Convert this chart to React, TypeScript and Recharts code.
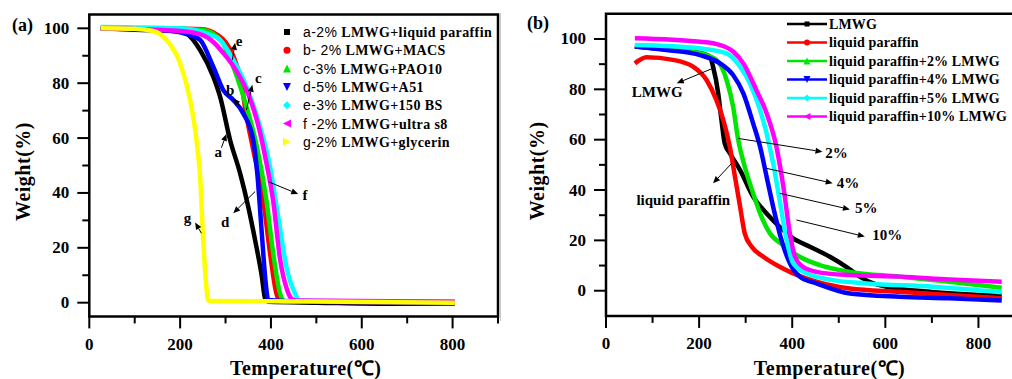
import React from "react";
import {
  LineChart,
  Line,
  XAxis,
  YAxis,
  ReferenceArea,
  ReferenceLine,
  ReferenceDot,
  Legend,
} from "recharts";

// ---------- panel (a) ----------
const namesA = [
  ["a-2%", " LMWG+liquid paraffin"],
  ["b- 2%", " LMWG+MACS"],
  ["c-3%", " LMWG+PAO10"],
  ["d-5%", " LMWG+A51"],
  ["e-3%", " LMWG+150 BS"],
  ["f -2%", " LMWG+ultra s8"],
  ["g-2%", " LMWG+glycerin"],
];
const colorsA = ["#000000", "#ff0000", "#00e600", "#0000ff", "#00ffff", "#ff00ff", "#ffff00"];
const markersA = ["square", "circle", "up", "down", "diamond", "left", "right"];

const tA_a = [25, 100, 200, 214, 244, 273, 288, 310, 332, 350, 365, 380, 387, 395, 500, 650, 805];
const wA_a = [100, 99.5, 99, 98.2, 92.1, 82.4, 75.1, 59.3, 47.2, 35, 22.9, 9.5, 1.6, 0.3, 0, -0.4, -0.3];
const tA_b = [25, 150, 250, 282, 300, 317, 335, 343, 361, 383, 398, 412, 420, 500, 805];
const wA_b = [100, 100, 99.7, 97.6, 95, 90, 80, 71, 55.7, 37.4, 18, 3.4, 0.5, 0.3, 0];
const tA_c = [25, 150, 250, 290, 317, 335, 346, 369, 390, 405, 420, 430, 600, 805];
const wA_c = [100, 100, 99.4, 95.5, 86, 77.5, 71.5, 56.9, 37.4, 18, 3.4, 0.5, 0.4, 0.3];
const tA_d = [25, 150, 200, 229, 244, 273, 295, 317, 339, 361, 370, 380, 388, 394, 500, 805];
const wA_d = [100, 99.5, 98.5, 97, 95.8, 86, 77.5, 73.9, 69, 59.3, 47, 25, 8, 1, 0.3, 0];
const tA_e = [25, 200, 260, 288, 317, 346, 376, 398, 416, 434, 453, 463, 600, 805];
const wA_e = [100.5, 100, 98, 95.8, 88.5, 78.8, 64.2, 49.6, 31.4, 13.1, 3.4, 0.8, 0.5, 0.3];
const tA_f = [25, 200, 250, 273, 295, 320, 350, 370, 390, 405, 420, 435, 445, 455, 805];
const wA_f = [100, 99, 97.5, 95, 91, 85.5, 76, 66, 51, 37, 16, 5, 1.5, 0.8, 0.3];
const tA_g = [25, 100, 140, 170, 200, 222, 236, 244, 250, 257, 262, 270, 500, 805];
const wA_g = [100, 99.8, 99, 95.8, 87.3, 73.9, 59.3, 45.9, 25.4, 7.2, 0.8, 0.6, 0.4, 0];

const tempsA = [tA_a, tA_b, tA_c, tA_d, tA_e, tA_f, tA_g];
const weightsA = [wA_a, wA_b, wA_c, wA_d, wA_e, wA_f, wA_g];

// label, arrow from (t,w) to (t,w), text at (t,w)
const notesA = [
  { text: "e", from: [315, 88.5], to: [321, 94.7], at: [330, 95.2] },
  { text: "c", from: [346, 70.2], to: [359, 79.4], at: [372, 81.8] },
  { text: "b", from: [332, 71.5], to: [317, 74.5], at: [310, 77.5] },
  { text: "a", from: [291, 56.5], to: [302, 61.5], at: [284, 55] },
  { text: "d", from: [365, 40.5], to: [317, 32.6], at: [299, 29.5] },
  { text: "f", from: [394, 44.1], to: [460, 39.6], at: [475, 39.3] },
  { text: "g", from: [247, 25.3], to: [233, 29.2], at: [216, 30.8] },
];

// ---------- panel (b) ----------
const namesB = [
  "LMWG",
  "liquid paraffin",
  "liquid paraffin+2% LMWG",
  "liquid paraffin+4% LMWG",
  "liquid paraffin+5% LMWG",
  "liquid paraffin+10% LMWG",
];
const colorsB = ["#000000", "#ff0000", "#00e600", "#0000ff", "#00ffff", "#ff00ff"];
const markersB = ["square", "circle", "up", "down", "diamond", "left"];

const tB_0 = [62, 120, 200, 223, 230, 241, 248, 255, 266, 288, 316, 345, 373, 402, 438, 481, 516, 545, 574, 602, 700, 850];
const wB_0 = [97, 96, 94.5, 93, 89, 78.4, 67.8, 58.5, 54.6, 47.9, 37.4, 30.7, 25.4, 20.8, 17.5, 13.5, 9.5, 5.6, 2.9, 1.6, -0.5, -2];
const tB_1 = [62, 87, 144, 187, 216, 237, 252, 266, 277, 288, 298, 313, 338, 373, 402, 452, 524, 631, 738, 850];
const wB_1 = [90.3, 92.7, 91.7, 89, 83.7, 75.8, 67.8, 57.2, 45.3, 33.4, 22.8, 17.5, 13.5, 9.5, 6.9, 3.6, 0.9, -0.4, -1.7, -3];
const tB_2 = [62, 202, 237, 259, 273, 284, 298, 316, 331, 352, 381, 416, 459, 524, 631, 738, 850];
const wB_2 = [97, 94.3, 91.7, 83.7, 73.1, 59.9, 49.3, 38.7, 30.7, 22.8, 18.1, 13.5, 10.2, 7.5, 5.6, 3.6, 1.2];
const tB_3 = [62, 130, 202, 245, 273, 295, 316, 331, 345, 359, 377, 395, 416, 452, 524, 631, 738, 850];
const wB_3 = [97, 95.6, 93.6, 90.3, 85.7, 78.4, 66.5, 57.2, 45.3, 33.4, 20.1, 10.9, 5.6, 2.9, -1.1, -2.4, -3, -3.9];
const tB_4 = [62, 202, 259, 288, 309, 331, 345, 359, 373, 388, 402, 431, 488, 559, 702, 850];
const wB_4 = [97.6, 96.3, 94.3, 89, 82.4, 71.8, 62.5, 50.6, 36, 20.1, 10.9, 6.9, 4.2, 2.9, 1.6, -0.6];
const tB_5 = [62, 202, 245, 273, 295, 323, 345, 366, 381, 395, 406, 423, 452, 524, 631, 738, 850];
const wB_5 = [100.3, 98.9, 97.6, 95, 90.3, 79.7, 70.5, 57.2, 41.3, 22.8, 13.5, 9.5, 7.5, 6.2, 5.6, 4.5, 3.6];

const tempsB = [tB_0, tB_1, tB_2, tB_3, tB_4, tB_5];
const weightsB = [wB_0, wB_1, wB_2, wB_3, wB_4, wB_5];

const notesB = [
  { text: "LMWG", from: [230, 88.4], to: [152, 82.4], at: [110, 79.1] },
  { text: "liquid paraffin", from: [270, 50.6], to: [230, 42.7], at: [166, 36] },
  { text: "2%", from: [284, 60.5], to: [465, 55.2], at: [495, 54.6] },
  { text: "4%", from: [345, 48.6], to: [487, 42.7], at: [520, 42.9] },
  { text: "5%", from: [373, 38.7], to: [524, 32.3], at: [559, 32.7] },
  { text: "10%", from: [409, 28.1], to: [556, 21.5], at: [604, 22.1] },
];

const xTicks = [0, 100, 200, 300, 400, 500, 600, 700, 800, 900];
const yTicks = [0, 10, 20, 30, 40, 50, 60, 70, 80, 90, 100];

const SERIF = "'Liberation Serif', 'Times New Roman', serif";
const SANS = "'Liberation Sans', Arial, sans-serif";

const pts = (t: number[], w: number[]) => t.map((x, i) => ({ t: x, w: w[i] }));

function Marker({ kind, x, y, color, s = 4 }: any) {
  if (kind === "square") return <rect x={x - s + 1} y={y - s + 1} width={2 * s - 2} height={2 * s - 2} fill={color} />;
  if (kind === "circle") return <circle cx={x} cy={y} r={s - 0.5} fill={color} />;
  const tri: Record<string, string> = {
    up: `${x},${y - s} ${x + s},${y + s} ${x - s},${y + s}`,
    down: `${x},${y + s} ${x + s},${y - s} ${x - s},${y - s}`,
    left: `${x - s},${y} ${x + s},${y - s} ${x + s},${y + s}`,
    right: `${x + s},${y} ${x - s},${y - s} ${x - s},${y + s}`,
    diamond: `${x},${y - s} ${x + s},${y} ${x},${y + s} ${x - s},${y}`,
  };
  return <polygon points={tri[kind]} fill={color} />;
}

function XTick({ x, y, payload }: any) {
  const v = payload.value;
  const major = v % 200 === 0;
  return (
    <g>
      <line x1={x} y1={y} x2={x} y2={y + (major ? 12 : 7)} stroke="#000" strokeWidth={2} />
      {major && v < 900 && (
        <text x={x} y={y + 28} textAnchor="middle" dominantBaseline="central" fontFamily={SERIF} fontWeight="bold" fontSize={17} fill="#000">
          {v}
        </text>
      )}
    </g>
  );
}

function YTick({ x, y, payload }: any) {
  const v = payload.value;
  const major = v % 20 === 0;
  return (
    <g>
      <line x1={x} y1={y} x2={x - (major ? 12 : 7)} y2={y} stroke="#000" strokeWidth={2} />
      {major && (
        <text x={x - 20} y={y} textAnchor="end" dominantBaseline="central" fontFamily={SERIF} fontWeight="bold" fontSize={17} fill="#000">
          {v}
        </text>
      )}
    </g>
  );
}

function Arrow(p: any) {
  const { x1, y1, x2, y2 } = p;
  const ang = Math.atan2(y2 - y1, x2 - x1);
  const L = 7;
  const H = 3;
  const bx = x2 - L * Math.cos(ang);
  const by = y2 - L * Math.sin(ang);
  const poly = `${x2},${y2} ${bx - H * Math.sin(ang)},${by + H * Math.cos(ang)} ${bx + H * Math.sin(ang)},${by - H * Math.cos(ang)}`;
  return (
    <g>
      <line x1={x1} y1={y1} x2={bx} y2={by} stroke="#000" strokeWidth={1} />
      <polygon points={poly} fill="#000" />
    </g>
  );
}

const noteText = (text: string) => (p: any) => (
  <text x={p.cx} y={p.cy} textAnchor="middle" dominantBaseline="central" fontFamily={SERIF} fontWeight="bold" fontSize={15} fill="#000">
    {text}
  </text>
);

function LegendA() {
  return (
    <svg width={220} height={130} style={{ overflow: "visible" }}>
      {namesA.map((n, i) => (
        <g key={i}>
          <Marker kind={markersA[i]} x={7} y={9 + i * 18.3} color={colorsA[i]} />
          <text x={23} y={9 + i * 18.3} dominantBaseline="central" fontSize={14} fill="#000" letterSpacing={0.4}>
            <tspan fontFamily={SANS}>{n[0]}</tspan>
            <tspan fontFamily={SERIF} fontWeight="bold">{n[1]}</tspan>
          </text>
        </g>
      ))}
    </svg>
  );
}

function LegendB() {
  return (
    <svg width={230} height={115} style={{ overflow: "visible" }}>
      {namesB.map((n, i) => (
        <g key={i}>
          <line x1={0} x2={40} y1={8 + i * 18.5} y2={8 + i * 18.5} stroke={colorsB[i]} strokeWidth={2.5} />
          <Marker kind={markersB[i]} x={20} y={8 + i * 18.5} color={colorsB[i]} s={3.5} />
          <text x={42} y={8 + i * 18.5} dominantBaseline="central" fontFamily={SERIF} fontWeight="bold" fontSize={14} fill="#000" letterSpacing={0.15}>
            {n}
          </text>
        </g>
      ))}
    </svg>
  );
}

const axisTitle = (text: string, dx: number, dy: number, rotate: boolean) => (props: any) => {
  const vb = props.viewBox;
  const x = rotate ? vb.x + dx : vb.x + vb.width / 2 + dx;
  const y = rotate ? vb.y + vb.height / 2 + dy : vb.y + dy;
  return (
    <text
      x={x}
      y={y}
      textAnchor="middle"
      dominantBaseline="central"
      transform={rotate ? `rotate(-90, ${x}, ${y})` : undefined}
      fontFamily={SERIF}
      fontWeight="bold"
      fontSize={20}
      letterSpacing={0.5}
      fill="#000"
    >
      {text}
    </text>
  );
};

export default function App() {
  return (
    <div style={{ position: "fixed", left: 0, top: 0, width: 1012, height: 379, overflow: "hidden", background: "#fff" }}>
      <div style={{ position: "absolute", left: 0, top: 0 }}>
        <LineChart width={500} height={379} margin={{ top: 14.6, right: 2, left: 0, bottom: 0 }}>
          <XAxis dataKey="t" type="number" domain={[0, 900]} ticks={xTicks} interval={0} height={62.6} tickSize={0} tickMargin={0} tickLine={false} axisLine={false} tick={<XTick />} label={{ content: axisTitle("Temperature(\u2103)", 12, 52, false) }} />
          <YAxis type="number" domain={[-5, 105]} ticks={yTicks} interval={0} width={89.3} tickSize={0} tickMargin={0} tickLine={false} axisLine={false} tick={<YTick />} label={{ content: axisTitle("Weight(%)", 23, 6, true) }} />
          <ReferenceArea x1={0} x2={900} y1={-5} y2={105} fill="none" stroke="#000" strokeWidth={2.5} fillOpacity={0} />
          {tempsA.map((t, i) => (
            <Line key={i} data={pts(t, weightsA[i])} dataKey="w" type="monotone" stroke={colorsA[i]} strokeWidth={4.5} dot={false} isAnimationActive={false} />
          ))}
          {notesA.map((n, i) => (
            <ReferenceLine key={"l" + i} segment={[{ x: n.from[0], y: n.from[1] }, { x: n.to[0], y: n.to[1] }]} shape={Arrow} />
          ))}
          {notesA.map((n, i) => (
            <ReferenceDot key={"d" + i} x={n.at[0]} y={n.at[1]} r={0} shape={noteText(n.text)} />
          ))}
          <Legend layout="vertical" align="center" verticalAlign="middle" content={<LegendA />} wrapperStyle={{ left: 280, top: 23, width: 220 }} />
        </LineChart>
        <div style={{ position: "absolute", left: 12, top: 15, fontFamily: SERIF, fontWeight: "bold", fontSize: 18 }}>(a)</div>
      </div>
      <div style={{ position: "absolute", left: 500, top: 13, width: 1, height: 308, background: "#c8c8c8" }} />
      <div style={{ position: "absolute", left: 500, top: 0 }}>
        <LineChart width={525} height={379} margin={{ top: 13.8, right: 0, left: 0, bottom: 0 }}>
          <XAxis dataKey="t" type="number" domain={[0, 900]} ticks={xTicks} interval={0} height={63.1} tickSize={0} tickMargin={0} tickLine={false} axisLine={false} tick={<XTick />} label={{ content: axisTitle("Temperature(\u2103)", 14, 52, false) }} />
          <YAxis type="number" domain={[-10, 110]} ticks={yTicks} interval={0} width={106} tickSize={0} tickMargin={0} tickLine={false} axisLine={false} tick={<YTick />} label={{ content: axisTitle("Weight(%)", 37, 6, true) }} />
          <ReferenceArea x1={0} x2={900} y1={-10} y2={110} fill="none" stroke="#000" strokeWidth={2.5} fillOpacity={0} />
          {tempsB.map((t, i) => (
            <Line key={i} data={pts(t, weightsB[i])} dataKey="w" type="monotone" stroke={colorsB[i]} strokeWidth={4.5} dot={false} isAnimationActive={false} />
          ))}
          {notesB.map((n, i) => (
            <ReferenceLine key={"l" + i} segment={[{ x: n.from[0], y: n.from[1] }, { x: n.to[0], y: n.to[1] }]} shape={Arrow} />
          ))}
          {notesB.map((n, i) => (
            <ReferenceDot key={"d" + i} x={n.at[0]} y={n.at[1]} r={0} shape={noteText(n.text)} />
          ))}
          <Legend layout="vertical" align="center" verticalAlign="middle" content={<LegendB />} wrapperStyle={{ left: 287, top: 16, width: 230 }} />
        </LineChart>
        <div style={{ position: "absolute", left: 27, top: 13, fontFamily: SERIF, fontWeight: "bold", fontSize: 18 }}>(b)</div>
      </div>
    </div>
  );
}
